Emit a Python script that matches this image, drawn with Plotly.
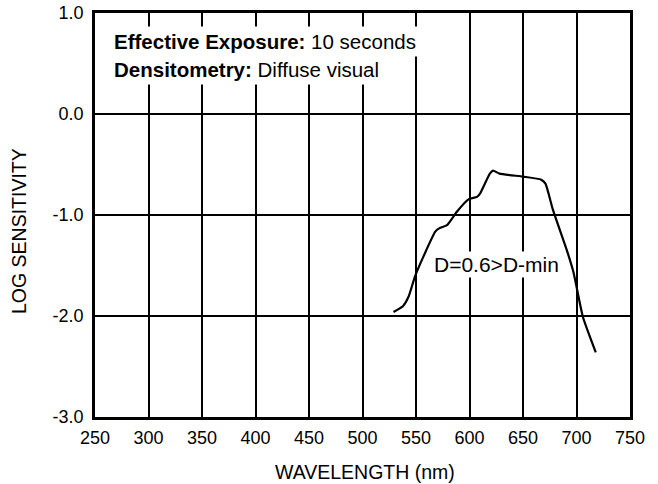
import plotly.graph_objects as go

# Data
wavelength = [529, 538, 543, 549, 557, 568, 572, 579, 588, 599, 607, 610, 619, 622, 628,
              650, 667, 671, 678, 691, 697, 706, 713, 718]
log_sens = [-1.96, -1.90, -1.81, -1.61, -1.41, -1.165, -1.13, -1.10, -0.97, -0.845, -0.82,
            -0.785, -0.59, -0.56, -0.59, -0.62, -0.65, -0.69, -0.95, -1.35, -1.56, -2.01,
            -2.22, -2.36]

x_ticks = [250, 300, 350, 400, 450, 500, 550, 600, 650, 700, 750]
x_ticktext = [str(v) for v in x_ticks]
y_ticks = [1.0, 0.0, -1.0, -2.0, -3.0]
y_ticktext = ["1.0", "0.0", "-1.0", "-2.0", "-3.0"]

FONT = "Liberation Sans, Arial, Helvetica, sans-serif"

fig = go.Figure()
fig.add_trace(go.Scatter(
    x=wavelength, y=log_sens, mode="lines",
    line=dict(color="black", width=2.2, shape="spline", smoothing=0.5),
    hoverinfo="skip", showlegend=False,
))

fig.update_layout(
    width=658, height=484, autosize=False,
    margin=dict(l=95, r=28, t=13, b=67),
    paper_bgcolor="white", plot_bgcolor="white",
    font=dict(family=FONT, color="black", size=18),
    xaxis=dict(
        range=[250, 750], tickvals=x_ticks, ticktext=x_ticktext,
        showgrid=True, gridcolor="black", gridwidth=2,
        showline=True, linecolor="black", linewidth=2.5, mirror=True,
        zeroline=False, ticks="", ticklabelstandoff=3, automargin=False,
        tickfont=dict(size=18),
    ),
    yaxis=dict(
        range=[-3.0, 1.0], tickvals=y_ticks, ticktext=y_ticktext,
        showgrid=True, gridcolor="black", gridwidth=2,
        showline=True, linecolor="black", linewidth=2.5, mirror=True,
        zeroline=False, ticks="", ticklabelstandoff=5, automargin=False,
        tickfont=dict(size=18),
    ),
    annotations=[
        dict(xref="paper", yref="paper", x=0.5, y=0, xanchor="center", yanchor="middle",
             xshift=2, yshift=-55, text="WAVELENGTH (nm)", showarrow=False,
             font=dict(size=19.5)),
        dict(xref="paper", yref="paper", x=0, y=0.5, xanchor="center", yanchor="middle",
             xshift=-76, yshift=-16, text="LOG SENSITIVITY", showarrow=False,
             textangle=-90, font=dict(size=19.5)),
        dict(xref="paper", yref="paper", x=0, y=1, xanchor="left", yanchor="middle",
             xshift=15, yshift=-28,
             text="<b>Effective Exposure:</b> 10 seconds", showarrow=False,
             bgcolor="white", font=dict(size=20.5), borderpad=3),
        dict(xref="paper", yref="paper", x=0, y=1, xanchor="left", yanchor="middle",
             xshift=15, yshift=-56,
             text="<b>Densitometry:</b> Diffuse visual", showarrow=False,
             bgcolor="white", font=dict(size=20.5), borderpad=3),
        dict(xref="x", yref="y", x=625, y=-1.49, xanchor="center", yanchor="middle",
             text="D=0.6>D-min", showarrow=False,
             bgcolor="white", font=dict(size=21), borderpad=1),
    ],
)

fig.write_html("out.html", config={"displayModeBar": False},
               post_script="document.body.style.margin='0';")
